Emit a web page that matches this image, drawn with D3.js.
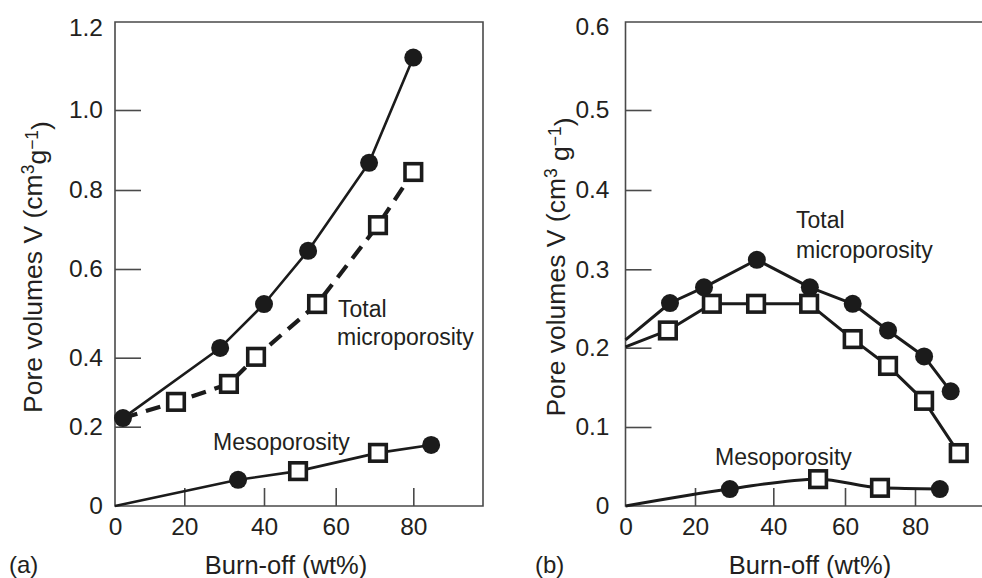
<!DOCTYPE html>
<html>
<head>
<meta charset="utf-8">
<script src="https://cdn.jsdelivr.net/npm/d3@7"></script>
<style>
  html, body { margin: 0; padding: 0; background: #fff; }
  svg { display: block; }
  text { font-family: "Liberation Sans", Arial, Helvetica, sans-serif; fill: #231f20; }
</style>
</head>
<body>
<svg id="chart" width="982" height="578"></svg>
<script>
// ---------------- DATA ----------------
// Panel (a)
const aXTicks = [0, 20, 40, 60, 80];
const aYTicks = [0, 0.2, 0.4, 0.6, 0.8, 1.0, 1.2];
const aTotalX = [2.3, 29.0, 40.0, 52.3, 68.6, 80.0];
const aTotalY = [0.225, 0.422, 0.521, 0.646, 0.868, 1.127];
const aTotalMarker = ["circle", "circle", "circle", "circle", "circle", "circle"];
const aMicroX = [2.3, 17.6, 31.2, 38.0, 54.8, 70.9, 80.0];
const aMicroY = [0.225, 0.272, 0.324, 0.402, 0.521, 0.711, 0.845];
const aMicroMarker = ["none", "square", "square", "square", "square", "square", "square"];
const aMesoX = [0, 33.5, 49.5, 70.9, 84.6];
const aMesoY = [0, 0.066, 0.088, 0.134, 0.154];
const aMesoMarker = ["none", "circle", "square", "square", "circle"];

// Panel (b)
const bXTicks = [0, 20, 40, 60, 80];
const bYTicks = [0, 0.1, 0.2, 0.3, 0.4, 0.5, 0.6];
const bTotalX = [0, 12.8, 22.3, 35.8, 50.2, 62.2, 72.3, 82.6, 90.2];
const bTotalY = [0.21, 0.257, 0.277, 0.312, 0.277, 0.256, 0.222, 0.189, 0.145];
const bTotalMarker = ["none", "circle", "circle", "circle", "circle", "circle", "circle", "circle", "circle"];
const bMicroX = [0, 12.2, 24.3, 35.6, 50.0, 62.2, 72.3, 82.6, 92.5];
const bMicroY = [0.201, 0.222, 0.256, 0.256, 0.256, 0.211, 0.177, 0.133, 0.067];
const bMicroMarker = ["none", "square", "square", "square", "square", "square", "square", "square", "square"];
const bMesoX = [0, 28.9, 52.5, 70.0, 87.1];
const bMesoY = [0, 0.0215, 0.034, 0.023, 0.0215];
const bMesoMarker = ["none", "circle", "square", "square", "circle"];

const xTitle = "Burn-off (wt%)";

// ---------------- DRAWING ----------------
const svg = d3.select("#chart");
const INK = "#1b1b1b";
const FONT = "Liberation Sans, Arial, sans-serif";

function zip(xs, ys, ms) { return xs.map((x, i) => ({x, y: ys[i], m: ms[i]})); }

function drawPanel(cfg) {
  const g = svg.append("g");
  // The printed axes are slightly non-uniform: map each tick to its printed position.
  const x = d3.scaleLinear().domain(cfg.xTicks).range(cfg.xRange);
  const y = d3.scaleLinear().domain(cfg.yTicks).range(cfg.yRange);

  // frame
  const fr = cfg.frame;
  g.append("path")
    .attr("d", cfg.closed
      ? `M${fr.l},${fr.t}H${fr.r}V${fr.b}H${fr.l}Z`
      : `M${fr.r},${fr.t}H${fr.l}V${fr.b}H${fr.r}`)
    .attr("fill", "none").attr("stroke", "#4a4a4a").attr("stroke-width", 1.6);

  // y axis (inward ticks)
  const yAx = g.append("g").attr("transform", `translate(${fr.l},0)`)
    .call(d3.axisLeft(y).tickValues(cfg.yTicks).tickSize(-26).tickPadding(cfg.yPad)
      .tickFormat(d => d === 0 ? "0" : d.toFixed(1)));
  yAx.select(".domain").remove();
  yAx.selectAll(".tick line").attr("stroke", "#4a4a4a").attr("stroke-width", 1.6)
    .filter(d => d === 0 || d === cfg.yTicks[cfg.yTicks.length - 1]).remove();
  yAx.selectAll(".tick text").attr("font-size", 24.5).attr("fill", "#231f20")
    .attr("font-family", FONT);

  // x axis (inward ticks)
  const xAx = g.append("g").attr("transform", `translate(0,${fr.b})`)
    .call(d3.axisBottom(x).tickValues(cfg.xTicks).tickSize(-18).tickPadding(11.5));
  xAx.select(".domain").remove();
  xAx.selectAll(".tick line").attr("stroke", "#4a4a4a").attr("stroke-width", 1.6)
    .filter(d => d === 0).remove();
  xAx.selectAll(".tick text").attr("font-size", 24.5).attr("fill", "#231f20")
    .attr("font-family", FONT);

  // series
  cfg.series.forEach(s => {
    const line = d3.line().x(d => x(d.x)).y(d => y(d.y)).curve(s.curve || d3.curveLinear);
    g.append("path").datum(s.data)
      .attr("d", line)
      .attr("fill", "none").attr("stroke", INK)
      .attr("stroke-width", s.width)
      .attr("stroke-dasharray", s.dash || null)
      .attr("stroke-linejoin", "round");
  });
  cfg.series.forEach(s => {
    g.selectAll(null).data(s.data.filter(d => d.m === "circle")).enter()
      .append("circle")
      .attr("cx", d => x(d.x)).attr("cy", d => y(d.y)).attr("r", 9)
      .attr("fill", INK);
    g.selectAll(null).data(s.data.filter(d => d.m === "square")).enter()
      .append("rect")
      .attr("x", d => x(d.x) - 8.3).attr("y", d => y(d.y) - 8.3)
      .attr("width", 16.6).attr("height", 16.6)
      .attr("fill", "#fff").attr("stroke", INK).attr("stroke-width", 3.6);
  });

  // annotations
  cfg.notes.forEach(n => {
    g.append("text").attr("x", n.x).attr("y", n.y).attr("font-size", 23)
      .text(n.text);
  });

  // x title
  g.append("text").attr("x", cfg.xTitleX).attr("y", 574).attr("text-anchor", "middle")
    .attr("font-size", 25.5).text(xTitle);

  // panel letter
  g.append("text").attr("x", cfg.letterX).attr("y", 573).attr("font-size", 24).text(cfg.letter);

  // y title with superscripts
  const yt = g.append("text")
    .attr("transform", `translate(${cfg.yTitleX},${cfg.yTitleY}) rotate(-90)`)
    .attr("text-anchor", "middle").attr("font-size", 26.5);
  yt.append("tspan").text("Pore volumes V (cm");
  yt.append("tspan").attr("dy", "-0.45em").attr("font-size", 17.5).text("3");
  yt.append("tspan").attr("dy", "0.45em").text(cfg.gap + "g");
  yt.append("tspan").attr("dy", "-0.45em").attr("font-size", 17.5).text("\u22121");
  yt.append("tspan").attr("dy", "0.45em").text(")");
}

drawPanel({
  xTicks: aXTicks, xRange: [115, 184.3, 264, 335.7, 413.3],
  yTicks: aYTicks, yRange: [506, 426.7, 357.7, 269, 190, 110, 27.5],
  frame: {l: 115, r: 483, t: 22, b: 506}, closed: true, yPad: 12,
  series: [
    {data: zip(aTotalX, aTotalY, aTotalMarker), width: 2.6},
    {data: zip(aMicroX, aMicroY, aMicroMarker), width: 4.2, dash: "15,9"},
    {data: zip(aMesoX, aMesoY, aMesoMarker), width: 2.6}
  ],
  notes: [
    {x: 338, y: 317, text: "Total"},
    {x: 337, y: 345, text: "microporosity"},
    {x: 213, y: 450, text: "Mesoporosity"}
  ],
  xTitleX: 286, letter: "(a)", letterX: 9,
  yTitleX: 42, yTitleY: 267, gap: ""
});

drawPanel({
  xTicks: bXTicks, xRange: [625.5, 695, 773.3, 845, 915],
  yTicks: bYTicks, yRange: [506, 427, 347.7, 269.3, 190, 110, 27],
  frame: {l: 625.5, r: 982, t: 22, b: 506}, closed: false, yPad: 16,
  series: [
    {data: zip(bTotalX, bTotalY, bTotalMarker), width: 3},
    {data: zip(bMicroX, bMicroY, bMicroMarker), width: 3},
    {data: zip(bMesoX, bMesoY, bMesoMarker), width: 3, curve: d3.curveMonotoneX}
  ],
  notes: [
    {x: 796, y: 228, text: "Total"},
    {x: 796, y: 258, text: "microporosity"},
    {x: 715, y: 465, text: "Mesoporosity"}
  ],
  xTitleX: 810, letter: "(b)", letterX: 535,
  yTitleX: 565, yTitleY: 267, gap: " "
});
</script>
</body>
</html>
